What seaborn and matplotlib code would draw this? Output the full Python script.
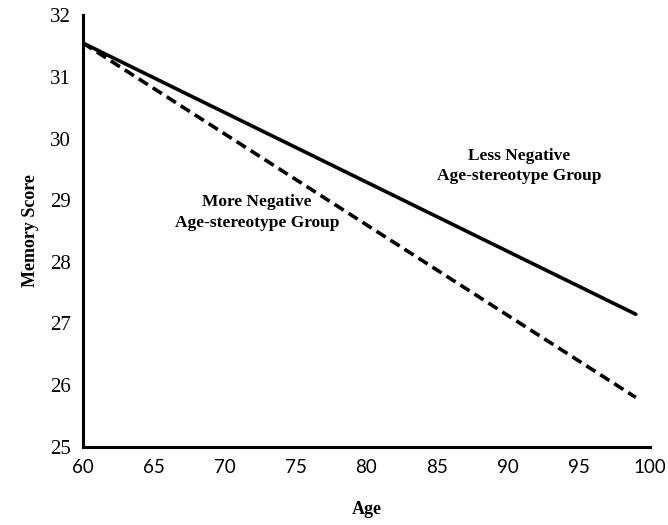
import matplotlib
matplotlib.use('Agg')
import matplotlib.pyplot as plt
import seaborn as sns
import pandas as pd

# endpoints of the two fitted lines
ages = [60, 99]
less_negative = [31.55, 27.15]
more_negative = [31.55, 25.8]
groups = ['Less Negative\nAge-stereotype Group', 'More Negative\nAge-stereotype Group']

df = pd.DataFrame({
    'Age': ages + ages,
    'Memory Score': less_negative + more_negative,
    'group': [groups[0]] * 2 + [groups[1]] * 2,
})

sns.set_style('white')
plt.rcParams['text.color'] = 'black'
plt.rcParams['axes.labelcolor'] = 'black'
plt.rcParams['xtick.color'] = 'black'
plt.rcParams['ytick.color'] = 'black'

fig = plt.figure(figsize=(6.68, 5.25), dpi=100)
ax = fig.add_axes([0.124, 0.149, 0.849, 0.822])

sns.lineplot(data=df, x='Age', y='Memory Score', hue='group', style='group',
             palette=['black', 'black'], dashes=[(None, None), (3, 1.6)],
             linewidth=2.6, legend=False, ax=ax)

ax.set_xlim(60, 100)
ax.set_ylim(25, 32)
ax.set_xticks(range(60, 101, 5))
ax.set_yticks(range(25, 33))

for side in ['top', 'right']:
    ax.spines[side].set_visible(False)
for side in ['left', 'bottom']:
    ax.spines[side].set_linewidth(2.2)
    ax.spines[side].set_color('black')

ax.tick_params(axis='both', direction='out', length=5, width=2, color='black',
               labelcolor='black')
for lab in ax.get_xticklabels():
    lab.set_fontfamily('Lato')
    lab.set_fontsize(13.5)
for lab in ax.get_yticklabels():
    lab.set_fontfamily('Liberation Serif')
    lab.set_fontsize(15)

ax.set_xlabel('Age', fontsize=13, fontweight='bold', family='Liberation Serif', labelpad=18)
ax.set_ylabel('Memory Score', fontsize=13, fontweight='bold', family='Liberation Serif', labelpad=8)

ax.text(90.8, 29.55, groups[0], ha='center', va='center', fontsize=12.5,
        fontweight='bold', family='Liberation Serif', linespacing=1.35)
ax.text(72.3, 28.8, groups[1], ha='center', va='center', fontsize=12.5,
        fontweight='bold', family='Liberation Serif', linespacing=1.35)

plt.savefig('out.png', dpi=100)
